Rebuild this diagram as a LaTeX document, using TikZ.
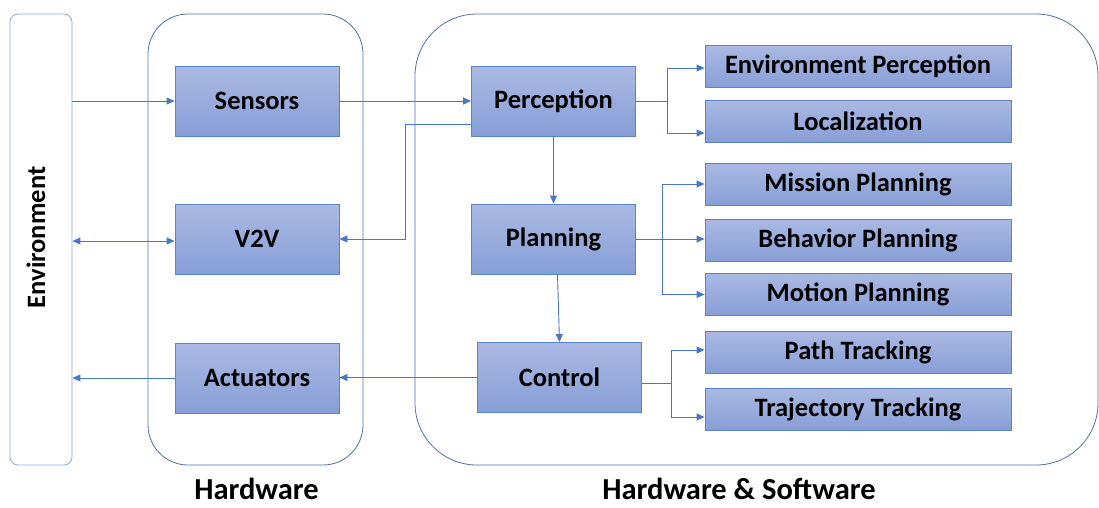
\documentclass[tikz,border=0pt]{standalone}
\usepackage{fontspec}
\setmainfont{Carlito}
\usetikzlibrary{positioning,arrows.meta,calc}

\definecolor{boxtop}{HTML}{AAB9E3}
\definecolor{boxbot}{HTML}{879ED6}
\definecolor{boxline}{HTML}{5B83CC}
\definecolor{linecol}{HTML}{4A76C6}
\definecolor{envline}{HTML}{8FAADC}
\definecolor{groupline}{HTML}{5070B0}

\tikzset{
  block/.style={draw=boxline, line width=0.9pt, top color=boxtop, bottom color=boxbot,
    minimum width=164pt, minimum height=70pt, inner sep=0pt,
    font=\fontsize{26.5}{30}\selectfont\bfseries},
  task/.style={block, minimum width=306pt, minimum height=42pt},
  group/.style={draw=groupline, line width=0.8pt, inner sep=0pt},
  grouplabel/.style={anchor=base, inner sep=0pt, font=\fontsize{30.5}{34}\selectfont\bfseries},
  wire/.style={draw=linecol, line width=0.9pt},
  arr/.style={wire, -{Triangle[length=8pt,width=7pt]}},
}

\begin{document}
\begin{tikzpicture}[x=1pt,y=-1pt]
\useasboundingbox (0,0) rectangle (1099,507);

% frames
\node [group, draw=envline, rounded corners=8pt, minimum width=62pt, minimum height=451pt] (env) at (41,239.5) {};
\node [rotate=90, font=\fontsize{26.5}{30}\selectfont\bfseries] (envlabel) at (36,237.5) {Environment};

\node [group, rounded corners=40pt, minimum width=215pt, minimum height=451pt] (hw) at (255.5,239.5) {};
\node [group, rounded corners=62pt, minimum width=683pt, minimum height=451pt] (hwsw) at (756.5,239.5) {};

\node [grouplabel] (hwlabel) at (256.5,499) {Hardware};
\node [grouplabel] (hwswlabel) at (739,499) {Hardware \& Software};

% hardware blocks
\node [block] (sens) at (257,101) {Sensors};
\node [block] (v2v)  at (257,239) {V2V};
\node [block] (act)  at (257,378) {Actuators};

% software blocks
\node [block] (perc) at (553.5,101) {Perception};
\node [block] (plan) at (553.5,239) {Planning};
\node [block] (ctrl) at (559.5,377.5) {Control};

\foreach \n/\y/\t in {envp/66.5/Environment Perception, loc/121/Localization,
	mis/184/Mission Planning, beh/240/Behavior Planning, mot/294.5/Motion Planning,
	path/352/Path Tracking, traj/409.5/Trajectory Tracking} {
	\node [task] (\n) at (858,\y) {\t};
}

% branch points
\coordinate (pb) at (667,101);
\coordinate (lb) at (662,239);
\coordinate (cb) at (671,383);
\coordinate (pv) at (405,124);

% hardware links
\draw [arr] (sens.west -| env.east) -- (sens.west);
\draw [wire, {Triangle[length=8pt,width=7pt]}-{Triangle[length=8pt,width=7pt]}] ([yshift=-2pt]v2v.west -| env.east) -- ([yshift=-2pt]v2v.west);
\draw [arr] (act.west) -- (act.west -| env.east);

\draw [arr] (sens.east) -- (perc.west);
\draw [arr] ([yshift=-23pt]perc.west) -- (pv) |- (v2v.east);
\draw [arr] (ctrl.west) -- (ctrl.west -| act.east);

% software chain
\draw [arr] (perc.south) -- (plan.north);
\draw [arr] ([xshift=4pt]plan.south) -- (ctrl.north);

% perception outputs
\draw [wire] (perc.east) -- (pb);
\draw [arr] (pb) |- ([yshift=-1.5pt]envp.west);
\draw [arr] (pb) |- ([yshift=-12pt]loc.west);

% planning outputs
\draw [wire] (plan.east) -- (lb);
\draw [arr] (lb) |- (mis.west);
\draw [arr] (lb) -- (lb -| beh.west);
\draw [arr] (lb) |- (mot.west);

% control outputs
\draw [wire] ([yshift=-5.5pt]ctrl.east) -- (cb);
\draw [arr] (cb) |- ([yshift=2pt]path.west);
\draw [arr] (cb) |- ([yshift=-7.5pt]traj.west);

\end{tikzpicture}
\end{document}
